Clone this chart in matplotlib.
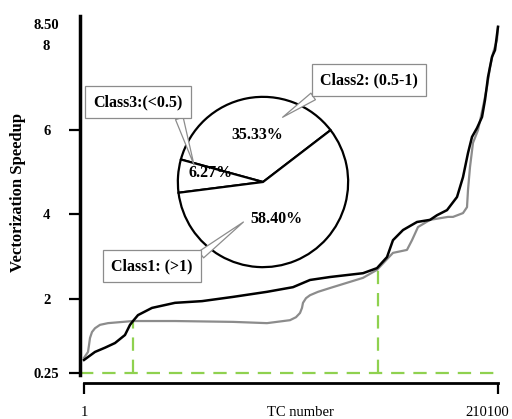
import matplotlib
matplotlib.use("Agg")
import matplotlib.pyplot as plt
from matplotlib.transforms import ScaledTranslation

# ---- data ----
tc_black = [1, 5580, 10650, 15730, 20800, 23350, 24870, 27400, 34500, 46180, 59880, 75600,
            92870, 106070, 114700, 124850, 141600, 148700, 153770, 156800, 161900,
            169000, 175600, 179150, 184220, 189300, 192340, 194880, 196910, 199450,
            201990, 203500, 205020, 207050, 208580, 210100]
speed_black = [0.56, 0.75, 0.85, 0.96, 1.15, 1.39, 1.48, 1.62, 1.79, 1.91, 1.95, 2.05,
               2.17, 2.28, 2.45, 2.52, 2.61, 2.73, 2.99, 3.39, 3.63,
               3.82, 3.87, 3.98, 4.10, 4.41, 4.88, 5.45, 5.83, 6.04,
               6.30, 6.70, 7.24, 7.72, 7.88, 8.43]
tc_gray = [1, 2030, 2540, 3045, 4060, 5580, 8120, 12180, 24870, 46180, 75600, 92870,
           104540, 107580, 109620, 110630, 111140, 112660, 114700, 118760, 124850,
           141600, 148700, 156800, 163900, 166460, 169500, 175600, 184730, 187270,
           192340, 194370, 194880, 195900, 197410, 199950, 202490, 204520, 206050,
           207570, 209590, 210100]
speed_gray = [0.61, 0.75, 0.91, 1.08, 1.22, 1.31, 1.39, 1.43, 1.48, 1.48, 1.46, 1.43,
              1.50, 1.57, 1.67, 1.79, 1.91, 2.02, 2.09, 2.17, 2.26,
              2.50, 2.69, 3.09, 3.16, 3.39, 3.70, 3.87, 3.94, 3.94,
              4.03, 4.17, 4.58, 5.12, 5.69, 5.99, 6.54, 7.01, 7.48,
              7.81, 8.12, 8.43]
cross_points = [(24870, 1.48), (149200, 2.71)]
y_ticks = [0.25, 2, 4, 6, 8, 8.5]
y_ticklabels = ["0.25", "2", "4", "6", "8", "8.50"]
x_ticks = [1, 210100]
x_ticklabels = ["1", "210100"]
pie_values = [35.33, 6.27, 58.40]
pie_classes = ["Class2: (0.5-1)", "Class3:(<0.5)", "Class1: (>1)"]

W, H = 512, 419
fig = plt.figure(figsize=(W / 100, H / 100), dpi=100)
serif = ["Liberation Serif", "DejaVu Serif"]

def fx(px):
    return px / W

def fy(py):
    return 1 - py / H

ax = fig.add_axes([fx(80), fy(375), (500 - 80) / W, (375 - 16) / H])
ax.set_xlim(-2029, 211115)
ax.set_ylim(0.205, 8.686)

green = "#8fd14f"
ax.axhline(0.25, color=green, lw=1.6, ls=(0, (6, 4)), zorder=1)
for cx, cy in cross_points:
    ax.plot([cx, cx], [0.25, cy], color=green, lw=1.6, ls=(0, (6, 4)), zorder=1)

ax.plot(tc_gray, speed_gray, color="#8c8c8c", lw=1.6, zorder=2, solid_joinstyle="round")
ax.plot(tc_black, speed_black, color="black", lw=1.8, zorder=3, solid_joinstyle="round")

for s in ["top", "right"]:
    ax.spines[s].set_visible(False)
ax.spines["left"].set_linewidth(2.5)
ax.spines["bottom"].set_linewidth(2.0)
ax.spines["bottom"].set_position(("outward", 6))
ax.spines["bottom"].set_bounds(1, 210100)

ax.set_yticks(y_ticks)
ax.set_yticklabels(y_ticklabels, fontfamily=serif, fontweight="bold", fontsize=10.5, ha="center")
ax.tick_params(axis="y", direction="out", length=8, width=1.6, pad=16)
for t in ax.yaxis.get_major_ticks()[4:]:
    t.tick1line.set_visible(False)

ax.set_xticks(x_ticks)
ax.set_xticklabels(x_ticklabels, fontfamily=serif, fontsize=10.5)
ax.tick_params(axis="x", direction="out", length=8, width=1.6, pad=8)
last = ax.get_xticklabels()[-1]
last.set_transform(last.get_transform() + ScaledTranslation(-11 / 100, 0, fig.dpi_scale_trans))

fig.text(fx(300), fy(412), "TC number", ha="center", va="center", fontfamily=serif, fontsize=10.5)
fig.text(fx(18), fy(193), "Vectorization Speedup", ha="center", va="center", rotation=90,
         fontfamily=serif, fontweight="bold", fontsize=12)

# ---- pie inset ----
cx, cy, r = 263, 182, 86
pax = fig.add_axes([fx(cx - r), fy(cy + r), 2 * r / W, 2 * r / H])
wedges, texts, autotexts = pax.pie(pie_values, startangle=37.5, counterclock=True,
                                   colors=["white"] * 3,
                                   wedgeprops=dict(edgecolor="black", linewidth=1.6),
                                   autopct="%.2f%%", pctdistance=0.5,
                                   textprops=dict(fontfamily=serif, fontweight="bold", fontsize=11.5))
pct_pos = [(-0.07, 0.55), (-0.62, 0.10), (0.16, -0.44)]
for t, p in zip(autotexts, pct_pos):
    t.set_position(p)
pax.set_xlim(-1.01, 1.01)
pax.set_ylim(-1.01, 1.01)
pax.set_aspect("equal")
pax.axis("off")

callouts = [
    ((0.23, 0.76), (369, 80), (0.08, 0.1)),
    ((-0.81, 0.20), (138, 102), (0.93, 0.05)),
    ((-0.23, -0.47), (152, 266), (0.95, 0.6)),
]
for name, (tip, (bx, by), rp) in zip(pie_classes, callouts):
    pax.annotate(name, xy=tip, xycoords="data",
                 xytext=(fx(bx), fy(by)), textcoords="figure fraction",
                 ha="center", va="center", fontfamily=serif, fontweight="bold", fontsize=11.5,
                 bbox=dict(boxstyle="square,pad=0.5", fc="white", ec="#8c8c8c", lw=0.9),
                 arrowprops=dict(arrowstyle="wedge,tail_width=0.5,shrink_factor=0.5",
                                 fc="white", ec="#8c8c8c", lw=0.9, relpos=rp,
                                 shrinkA=0, shrinkB=0),
                 annotation_clip=False, zorder=5)

fig.savefig("out.png", dpi=100)
